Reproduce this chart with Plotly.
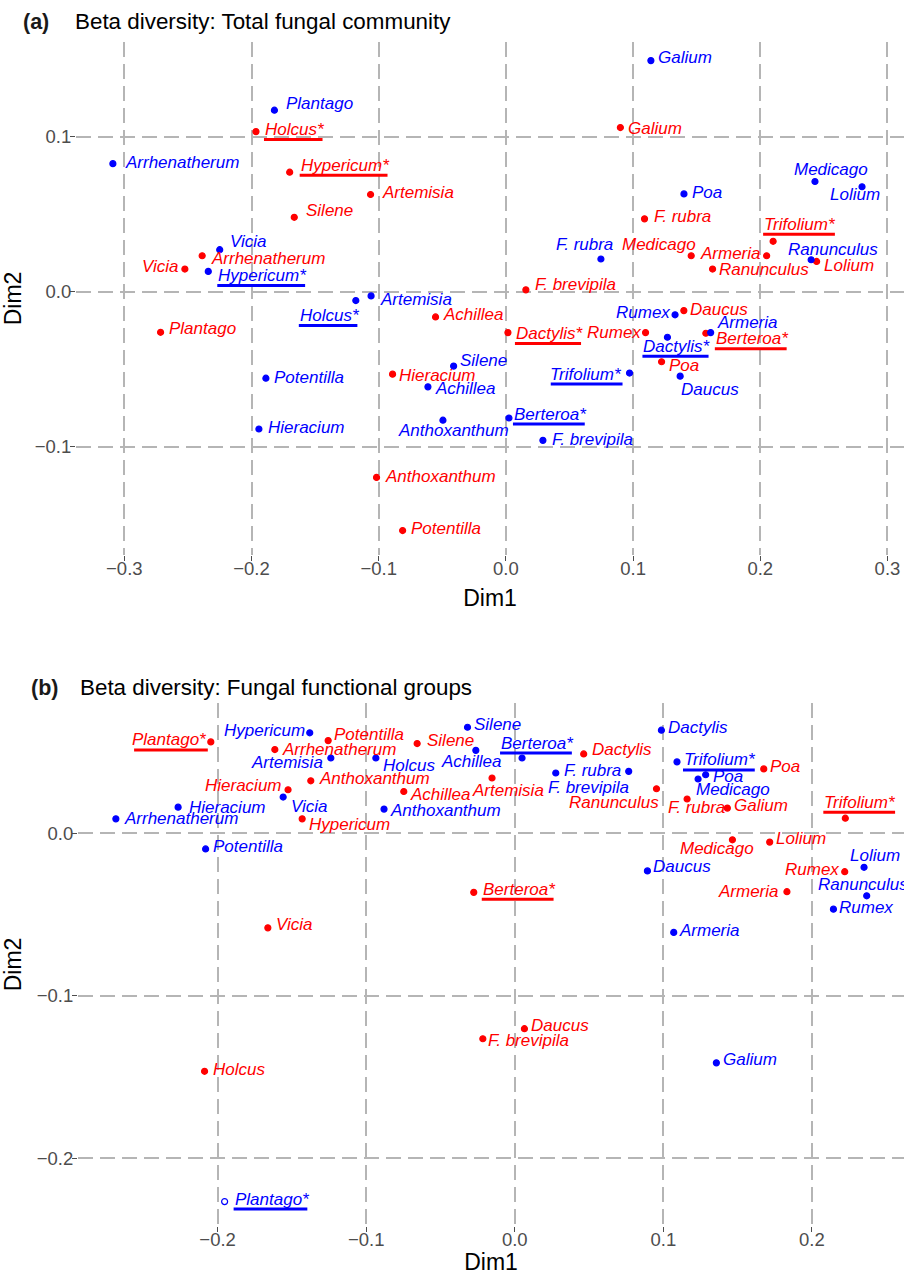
import plotly.graph_objects as go

RED = "#FF0000"
BLUE = "#0000FF"
GRID = "#B5B5B5"
FONT = "Liberation Sans, Arial, sans-serif"
LABEL_SIZE = 17

# ---- panel (a): total fungal community ----
A_RED_SPECIES = ["Galium", "Holcus*", "Hypericum*", "Artemisia", "Silene", "F. rubra",
                 "Vicia", "Arrhenatherum", "Medicago", "Trifolium*", "Armeria", "Ranunculus",
                 "Lolium", "F. brevipila", "Plantago", "Achillea", "Dactylis*", "Rumex",
                 "Daucus", "Berteroa*", "Poa", "Hieracium", "Anthoxanthum", "Potentilla"]
A_RED_DIM1 = [0.090, -0.1965, -0.170, -0.1064, -0.1664, 0.109,
              -0.2524, -0.2388, 0.1457, 0.2101, 0.205, 0.1625,
              0.2443, 0.0157, -0.2715, -0.0553, 0.0016, 0.1098,
              0.1399, 0.1572, 0.1224, -0.0891, -0.1017, -0.0812]
A_RED_DIM2 = [0.1058, 0.1032, 0.0770, 0.0626, 0.0479, 0.0469,
              0.0145, 0.0231, 0.0231, 0.0324, 0.0231, 0.0145,
              0.0194, 0.0011, -0.0263, -0.0164, -0.0265, -0.0265,
              -0.0123, -0.0269, -0.0453, -0.0533, -0.1199, -0.1542]

A_BLUE_SPECIES = ["Galium", "Plantago", "Arrhenatherum", "Medicago", "Lolium", "Poa",
                  "Vicia", "Hypericum*", "F. rubra", "Ranunculus", "Holcus*", "Artemisia",
                  "Rumex", "Armeria", "Dactylis*", "Daucus", "Silene", "Potentilla",
                  "Achillea", "Trifolium*", "Hieracium", "Anthoxanthum", "Berteroa*", "F. brevipila"]
A_BLUE_DIM1 = [0.114, -0.182, -0.309, 0.243, 0.280, 0.140,
               -0.225, -0.234, 0.0747, 0.240, -0.118, -0.106,
               0.133, 0.161, 0.127, 0.137, -0.0411, -0.1887,
               -0.0613, 0.0972, -0.1942, -0.0495, 0.0024, 0.0291]
A_BLUE_DIM2 = [0.149, 0.117, 0.0825, 0.071, 0.0676, 0.063,
               0.027, 0.013, 0.021, 0.0205, -0.0058, -0.0028,
               -0.015, -0.0265, -0.0295, -0.0546, -0.0481, -0.0559,
               -0.0615, -0.0526, -0.0887, -0.0830, -0.0816, -0.0960]

# ---- panel (b): fungal functional groups ----
B_RED_SPECIES = ["Plantago*", "Potentilla", "Silene", "Arrhenatherum", "Dactylis", "Anthoxanthum",
                 "Hieracium", "Achillea", "Artemisia", "Hypericum", "Ranunculus", "Poa",
                 "F. rubra", "Galium", "Trifolium*", "Medicago", "Lolium", "Rumex",
                 "Armeria", "Berteroa*", "Vicia", "Daucus", "F. brevipila", "Holcus"]
B_RED_DIM1 = [-0.2046, -0.1256, -0.0657, -0.1615, 0.0464, -0.1373,
              -0.1526, -0.0747, -0.0153, -0.1431, 0.0954, 0.1676,
              0.1160, 0.1431, 0.2225, 0.1465, 0.1716, 0.2221,
              0.1832, -0.0276, -0.1662, 0.0065, -0.0215, -0.2088]
B_RED_DIM2 = [0.0561, 0.0569, 0.0551, 0.0514, 0.0487, 0.0322,
              0.0267, 0.0256, 0.0339, 0.0088, 0.0273, 0.0395,
              0.0210, 0.0154, 0.0092, -0.0041, -0.0055, -0.0237,
              -0.0360, -0.0364, -0.0582, -0.1202, -0.1264, -0.1464]

B_BLUE_SPECIES = ["Hypericum", "Silene", "Dactylis", "Artemisia", "Holcus", "Achillea",
                  "Berteroa*", "F. rubra", "F. brevipila", "Trifolium*", "Poa", "Medicago",
                  "Hieracium", "Vicia", "Arrhenatherum", "Anthoxanthum", "Potentilla", "Lolium",
                  "Daucus", "Ranunculus", "Rumex", "Armeria", "Galium", "Plantago*"]
B_BLUE_DIM1 = [-0.1380, -0.0318, 0.0987, -0.1238, -0.0935, -0.0262,
               0.0049, 0.0767, 0.0276, 0.1092, 0.1285, 0.1234,
               -0.2266, -0.1559, -0.2685, -0.0880, -0.2081, 0.2351,
               0.0893, 0.2369, 0.2145, 0.1070, 0.1357, -0.1953]
B_BLUE_DIM2 = [0.0617, 0.0651, 0.0633, 0.0462, 0.0462, 0.0509,
               0.0462, 0.0380, 0.0370, 0.0438, 0.0359, 0.0333,
               0.0160, 0.0222, 0.0088, 0.0148, -0.0097, -0.0210,
               -0.0232, -0.0385, -0.0467, -0.0610, -0.1412, -0.2265]
B_BLUE_OPEN = ["Plantago*"]

# label placement (repelled text): side of anchor, x offset px, y offset px (down +)
A_RED_LAB = {
    "Galium": ("l", 7, 1), "Holcus*": ("l", 8, -2), "Hypericum*": ("l", 10, -7),
    "Artemisia": ("l", 10, -2), "Silene": ("l", 11, -7), "F. rubra": ("l", 8, -2),
    "Vicia": ("r", -5, -3), "Arrhenatherum": ("l", 8, 3), "Medicago": ("r", 6, -11),
    "Trifolium*": ("l", -10, -17), "Armeria": ("r", -5, -2), "Ranunculus": ("l", 5, 0),
    "Lolium": ("l", 6, 4), "F. brevipila": ("l", 8, -5), "Plantago": ("l", 7, -4),
    "Achillea": ("l", 6, -2), "Dactylis*": ("l", 7, 1), "Rumex": ("r", -4, 0),
    "Daucus": ("l", 5, -1), "Berteroa*": ("l", 9, 5.5), "Poa": ("l", 6, 4),
    "Hieracium": ("l", 5, 1), "Anthoxanthum": ("l", 7, -1), "Potentilla": ("l", 7, -2),
}
A_BLUE_LAB = {
    "Galium": ("l", 6, -3.5), "Plantago": ("l", 11, -7), "Arrhenatherum": ("l", 11, -1.5),
    "Medicago": ("l", -22, -12), "Lolium": ("l", -33, 8), "Poa": ("l", 7, -1),
    "Vicia": ("l", 9, -8), "Hypericum*": ("l", 9, 4), "F. rubra": ("l", -46, -14),
    "Ranunculus": ("l", -24, -10.5), "Holcus*": ("l", -57, 15), "Artemisia": ("l", 8, 4),
    "Rumex": ("r", -4, -2.5), "Armeria": ("l", 5, -10.5), "Dactylis*": ("l", -25, 9),
    "Daucus": ("l", 0, 13), "Silene": ("l", 5, -5.5), "Potentilla": ("l", 7, -0.5),
    "Achillea": ("l", 6, 2), "Trifolium*": ("r", -7, 1), "Hieracium": ("l", 8, -2),
    "Anthoxanthum": ("l", -46, 10), "Berteroa*": ("l", 4, -4), "F. brevipila": ("l", 8, -1),
}
B_RED_LAB = {
    "Plantago*": ("r", -3, -2), "Potentilla": ("l", 5, -6), "Silene": ("l", 9, -3),
    "Arrhenatherum": ("l", 6, 0), "Dactylis": ("l", 7, -4), "Anthoxanthum": ("l", 7, -2),
    "Hieracium": ("r", -5, -4.5), "Achillea": ("l", 5, 3), "Artemisia": ("l", -21, 12),
    "Hypericum": ("l", 6, 5.5), "Ranunculus": ("r", 4, 13.5), "Poa": ("l", 5, -2),
    "F. rubra": ("l", -20, 9), "Galium": ("l", 6, -3), "Trifolium*": ("l", -22, -16),
    "Medicago": ("l", -53, 9), "Lolium": ("l", 5, -3.5), "Rumex": ("r", -5, -2.7),
    "Armeria": ("r", -7, 0), "Berteroa*": ("l", 8, -3), "Vicia": ("l", 7, -3),
    "Daucus": ("l", 6, -3), "F. brevipila": ("l", 4, 2), "Holcus": ("l", 7.5, -2),
}
B_BLUE_LAB = {
    "Hypericum": ("r", -4, -2), "Silene": ("l", 5, -3), "Dactylis": ("l", 6, -3),
    "Artemisia": ("r", -7, 4), "Holcus": ("l", 6, 7), "Achillea": ("l", -36, 11),
    "Berteroa*": ("l", -22, -15), "F. rubra": ("r", -7, -1), "F. brevipila": ("l", -9, 15),
    "Trifolium*": ("l", 6, -2), "Poa": ("l", 6, 1.5), "Medicago": ("l", -3, 11),
    "Hieracium": ("l", 10, 0), "Vicia": ("l", 7, 9), "Arrhenatherum": ("l", 7, 0),
    "Anthoxanthum": ("l", 5, 1), "Potentilla": ("l", 6, -2.5), "Lolium": ("l", -15, -12),
    "Daucus": ("l", 5, -4.5), "Ranunculus": ("l", -50, -11), "Rumex": ("l", 5, -1.5),
    "Armeria": ("l", 4, -2), "Galium": ("l", 6, -3.5), "Plantago*": ("l", 9, -2.5),
}

# Arial advance widths (1/1000 em) for the underlined (significant) names
CHAR_W = {"H": 722, "o": 556, "l": 222, "c": 500, "u": 556, "s": 500, "*": 389,
          "y": 500, "p": 556, "e": 556, "r": 333, "i": 222, "m": 833, "T": 611,
          "f": 278, "D": 722, "a": 556, "t": 278, "B": 667, "P": 667, "n": 556, "g": 556}


def text_width(name):
    return sum(CHAR_W.get(ch, 556) for ch in name) / 1000 * LABEL_SIZE


def add_group(fig, species, dim1, dim2, color, labels, xref, yref, open_marks=()):
    symbols = ["circle-open" if s in open_marks else "circle" for s in species]
    fig.add_trace(go.Scatter(
        x=dim1, y=dim2, mode="markers", xaxis=xref, yaxis=yref,
        marker=dict(color=color, size=6, symbol=symbols, line=dict(color=color, width=1.2)),
        showlegend=False, cliponaxis=False, hoverinfo="text", text=species,
    ))
    for s, x, y in zip(species, dim1, dim2):
        side, dx, dy = labels[s]
        fig.add_annotation(
            x=x, y=y, xref=xref, yref=yref, text=f"<i>{s}</i>", showarrow=False,
            xanchor="left" if side == "l" else "right", yanchor="middle",
            xshift=dx, yshift=-dy, borderpad=0,
            font=dict(family=FONT, size=LABEL_SIZE, color=color),
        )
        if s.endswith("*"):
            # significant species are underlined
            w = text_width(s)
            x0, x1 = (dx, dx + w) if side == "l" else (dx - w, dx)
            fig.add_shape(
                type="line", xref=xref, yref=yref, xsizemode="pixel", ysizemode="pixel",
                xanchor=x, yanchor=y, x0=x0, x1=x1, y0=-(dy + 10), y1=-(dy + 10),
                line=dict(color=color, width=3),
            )


fig = go.Figure()
add_group(fig, A_RED_SPECIES, A_RED_DIM1, A_RED_DIM2, RED, A_RED_LAB, "x", "y")
add_group(fig, A_BLUE_SPECIES, A_BLUE_DIM1, A_BLUE_DIM2, BLUE, A_BLUE_LAB, "x", "y")
add_group(fig, B_RED_SPECIES, B_RED_DIM1, B_RED_DIM2, RED, B_RED_LAB, "x2", "y2")
add_group(fig, B_BLUE_SPECIES, B_BLUE_DIM1, B_BLUE_DIM2, BLUE, B_BLUE_LAB, "x2", "y2",
          open_marks=B_BLUE_OPEN)

axis_common = dict(
    showgrid=True, gridcolor=GRID, gridwidth=2, griddash="15px,7px",
    zeroline=False, showline=False, ticks="outside", ticklen=5, tickwidth=1,
    tickcolor="#4D4D4D", tickformat=".1f", dtick=0.1, tick0=0,
    tickfont=dict(family=FONT, size=18.5, color="#4D4D4D"),
    automargin=False,
)
x_axis = dict(axis_common, ticklabelstandoff=-8)
y_axis = dict(axis_common, ticklabelstandoff=-5)
title_font = dict(family=FONT, size=23, color="black")

fig.update_layout(
    template="none",
    width=904, height=1275,
    margin=dict(l=76, r=0, t=42, b=49),
    paper_bgcolor="white", plot_bgcolor="white",
    xaxis=dict(x_axis, domain=[0, 1], range=[-0.338, 0.313], anchor="y",
               title=dict(text="Dim1", font=title_font, standoff=11)),
    yaxis=dict(y_axis, domain=[0.5667, 1], range=[-0.170, 0.161], anchor="x",
               title=dict(text="Dim2", font=title_font, standoff=12)),
    xaxis2=dict(x_axis, domain=[0.0024, 1], range=[-0.294, 0.262], anchor="y2",
                title=dict(text="Dim1", font=title_font, standoff=11)),
    yaxis2=dict(y_axis, domain=[0, 0.4417], range=[-0.2415, 0.080], anchor="x2",
                title=dict(text="Dim2", font=title_font, standoff=12)),
)

# panel tags and titles
for tag, title, xt, xs, y in [("(a)", "Beta diversity: Total fungal community", -0.0652, -0.0024, 1.0173),
                              ("(b)", "Beta diversity: Fungal functional groups", -0.0556, 0.0036, 0.4544)]:
    fig.add_annotation(x=xt, y=y, xref="paper", yref="paper", text=f"<b>{tag}</b>",
                       showarrow=False, xanchor="left", yanchor="middle", borderpad=0,
                       font=dict(family=FONT, size=21.5, color="#1a1a1a"))
    fig.add_annotation(x=xs, y=y, xref="paper", yref="paper", text=title,
                       showarrow=False, xanchor="left", yanchor="middle", borderpad=0,
                       font=dict(family=FONT, size=22.4, color="black"))

fig.write_html("out.html", config={"displayModeBar": False},
               post_script="document.body.style.margin='0';")
